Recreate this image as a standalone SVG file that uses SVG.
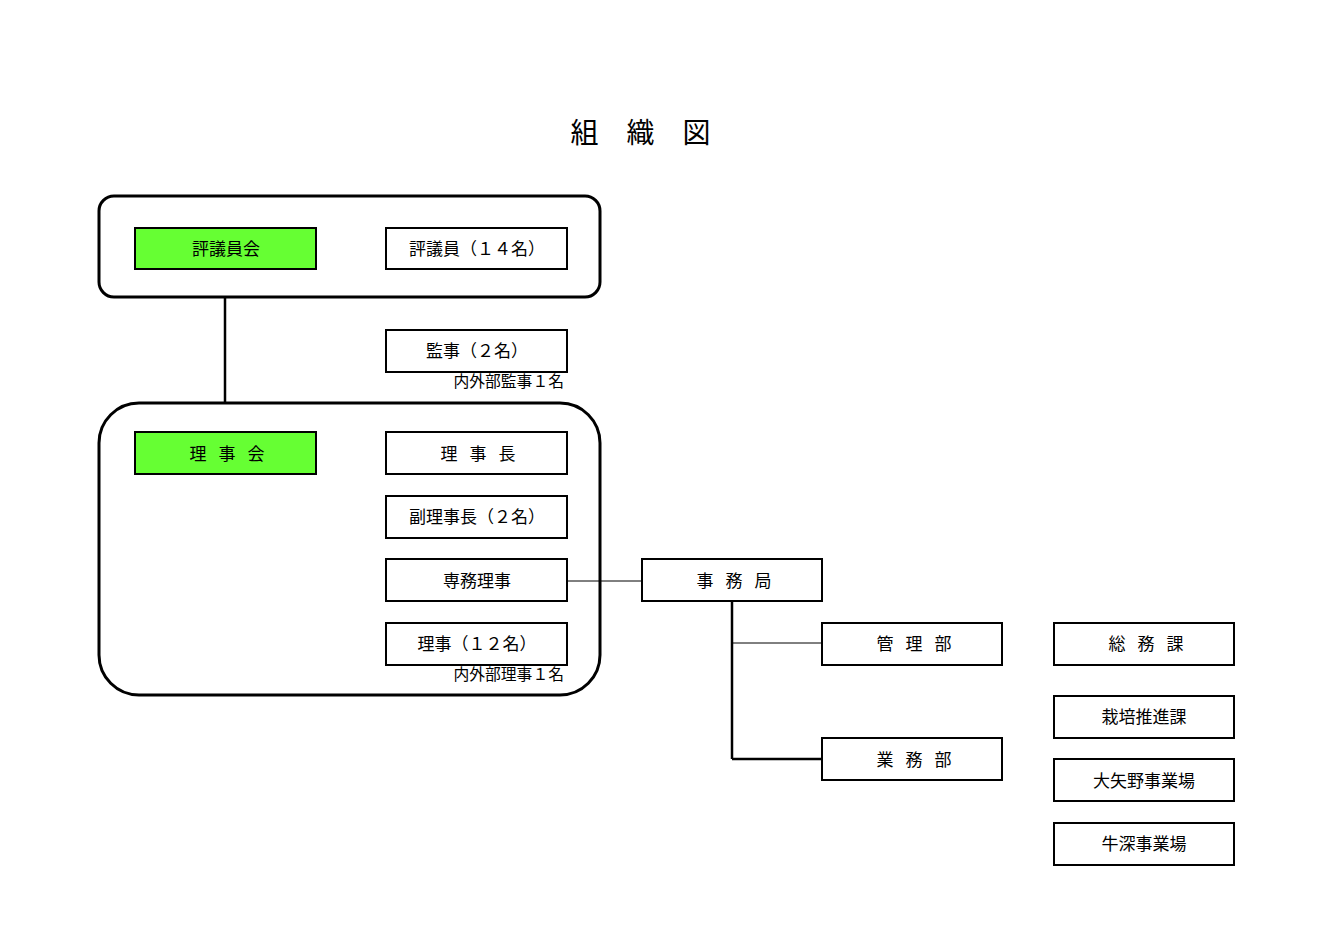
<svg xmlns="http://www.w3.org/2000/svg" width="1335" height="944" viewBox="0 0 1335 944">
<style>
.box{fill:#fff;stroke:#000;stroke-width:2}
.grn{fill:#66ff33;stroke:#000;stroke-width:2}
.grp{fill:none;stroke:#000;stroke-width:3}
.t{font-family:"Noto Sans CJK JP","Liberation Serif",serif;font-size:17px;fill:#000;text-anchor:middle;dominant-baseline:central}
.sp{letter-spacing:12px}
.n{font-family:"Noto Sans CJK JP","Liberation Serif",serif;font-size:15.8px;fill:#000;text-anchor:end}
.title{font-family:"Noto Sans CJK JP",sans-serif;font-size:28px;fill:#000;text-anchor:middle}
.thin{stroke:#000;stroke-width:1;fill:none}
.thick{stroke:#000;stroke-width:2.5;fill:none}
</style>
<rect width="1335" height="944" fill="#fff"/>
<text class="title" x="640.5" y="143">組　織　図</text>
<g id="groups">
<rect class="grp" x="99" y="196" width="501" height="101" rx="15"/>
<rect class="grp" x="99" y="403" width="501" height="292" rx="40"/>
</g>
<g id="connectors">
<line class="thick" x1="225" y1="297" x2="225" y2="403"/>
<line class="thin" x1="567" y1="581" x2="642" y2="581"/>
<line class="thick" x1="732" y1="601" x2="732" y2="759"/>
<line class="thin" x1="732" y1="643" x2="822" y2="643"/>
<line class="thick" x1="732" y1="759" x2="822" y2="759"/>
</g>
<g id="hyogiinkai"><rect class="grn" x="135" y="228" width="181" height="41"/><text class="t" x="226" y="247.5">評議員会</text></g>
<g id="hyogiin"><rect class="box" x="386" y="228" width="181" height="41"/><text class="t" x="477" y="247.5">評議員（１４名）</text></g>
<g id="kanji"><rect class="box" x="386" y="330" width="181" height="42"/><text class="t" x="477" y="349.5">監事（２名）</text><text class="n" x="564" y="387">内外部監事１名</text></g>
<g id="rijikai"><rect class="grn" x="135" y="432" width="181" height="42"/><text class="t sp" x="233" y="452.5">理事会</text></g>
<g id="rijicho"><rect class="box" x="386" y="432" width="181" height="42"/><text class="t sp" x="484" y="452.5">理事長</text></g>
<g id="fukurijicho"><rect class="box" x="386" y="496" width="181" height="42"/><text class="t" x="477" y="515.5">副理事長（２名）</text></g>
<g id="senmu"><rect class="box" x="386" y="559" width="181" height="42"/><text class="t" x="477" y="579.5">専務理事</text></g>
<g id="riji"><rect class="box" x="386" y="623" width="181" height="42"/><text class="t" x="477" y="642.5">理事（１２名）</text><text class="n" x="564" y="680">内外部理事１名</text></g>
<g id="jimukyoku"><rect class="box" x="642" y="559" width="180" height="42"/><text class="t sp" x="740" y="579.5">事務局</text></g>
<g id="kanribu"><rect class="box" x="822" y="623" width="180" height="42"/><text class="t sp" x="920" y="642.5">管理部</text></g>
<g id="gyomubu"><rect class="box" x="822" y="738" width="180" height="42"/><text class="t sp" x="920" y="758.5">業務部</text></g>
<g id="somuka"><rect class="box" x="1054" y="623" width="180" height="42"/><text class="t sp" x="1152" y="642.5">総務課</text></g>
<g id="saibai"><rect class="box" x="1054" y="696" width="180" height="42"/><text class="t" x="1144" y="715.5">栽培推進課</text></g>
<g id="oyano"><rect class="box" x="1054" y="759" width="180" height="42"/><text class="t" x="1144" y="779.5">大矢野事業場</text></g>
<g id="ushibuka"><rect class="box" x="1054" y="823" width="180" height="42"/><text class="t" x="1144" y="842.5">牛深事業場</text></g>
</svg>
